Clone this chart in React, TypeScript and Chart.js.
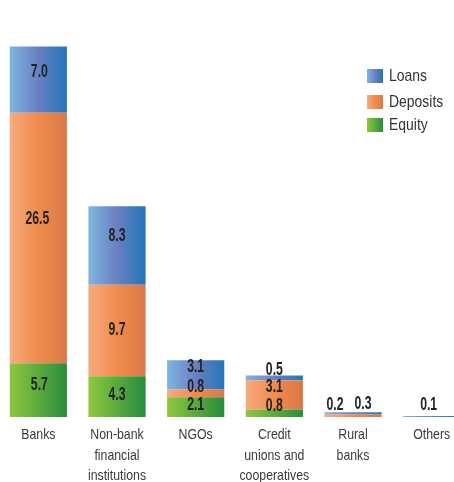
import React, { useEffect, useRef } from "react";
import { Chart, registerables } from "chart.js";

Chart.register(...registerables);

// ---- Data ----
const categories: string[][] = [
  ["Banks"],
  ["Non-bank", "financial", "institutions"],
  ["NGOs"],
  ["Credit", "unions and", "cooperatives"],
  ["Rural", "banks"],
  ["Others"],
];
const loans = [7.0, 8.3, 3.1, 0.5, 0.2, 0.1];
const deposits = [26.5, 9.7, 0.8, 3.1, 0.3, 0];
const equity = [5.7, 4.3, 2.1, 0.8, 0, 0];
const legendNames = ["Loans", "Deposits", "Equity"];

// ---- Styling ----
const FONT = "'Liberation Sans', Arial, sans-serif";
const NARROW = 0.82;
const LABEL_NARROW = 0.7;
const BAR_PCT = 0.727;
const gradStops: Record<string, string[]> = {
  Loans: ["#7db6e0", "#6a7fc2", "#2177b9"],
  Deposits: ["#f6ab80", "#f08b4c", "#d97947"],
  Equity: ["#8fc73f", "#5aab3c", "#288b3f"],
};
// label nudges [dx, dy] per series per category
const labelOffsets: Record<string, number[][]> = {
  Loans: [[1, -7], [0, -9], [0, -8], [0, -7.5], [-18, -8], [-3, -11]],
  Deposits: [[-1, -19], [0, 0], [0, -6.5], [0, -7.5], [10, -11], [0, 0]],
  Equity: [[1, -5], [0, -2], [0, -1.5], [0, -7.5], [0, 0], [0, 0]],
};

function narrowText(c: CanvasRenderingContext2D, t: string, x: number, y: number, sx = NARROW) {
  c.save();
  c.translate(x, y);
  c.scale(sx, 1);
  c.fillText(t, 0, 0);
  c.restore();
}

function makeGrad(name: string) {
  const stops = gradStops[name];
  return (ctx: any) => {
    const chart = ctx.chart;
    const xs = chart.scales && chart.scales.x;
    if (!chart.chartArea || !xs || ctx.dataIndex == null) return stops[1];
    const cx = xs.getPixelForValue(ctx.dataIndex);
    const w = (xs.width / categories.length) * BAR_PCT;
    const g = chart.ctx.createLinearGradient(cx - w / 2, 0, cx + w / 2, 0);
    g.addColorStop(0, stops[0]);
    g.addColorStop(0.5, stops[1]);
    g.addColorStop(1, stops[2]);
    return g;
  };
}

const labelPlugin = {
  id: "segLabels",
  afterDatasetsDraw(chart: any) {
    const c = chart.ctx;
    c.save();
    c.font = `bold 17.5px ${FONT}`;
    c.fillStyle = "#222222";
    c.textAlign = "center";
    c.textBaseline = "middle";
    chart.data.datasets.forEach((ds: any, di: number) => {
      const meta = chart.getDatasetMeta(di);
      meta.data.forEach((el: any, i: number) => {
        const v = ds.data[i];
        if (!v) return;
        const off = labelOffsets[ds.label][i];
        const y = (el.y + el.base) / 2;
        narrowText(c, v.toFixed(1), el.x + off[0], y + off[1], LABEL_NARROW);
      });
    });
    // category labels under the axis
    const xs = chart.scales.x;
    c.font = `15px ${FONT}`;
    c.fillStyle = "#3a3a3a";
    categories.forEach((lines, i) => {
      const cx = xs.getPixelForValue(i);
      lines.forEach((ln, k) => {
        narrowText(c, ln, cx, chart.chartArea.bottom + 18 + k * 20.5);
      });
    });
    c.restore();
  },
};

const legendPlugin = {
  id: "customLegend",
  afterDraw(chart: any) {
    const c = chart.ctx;
    c.save();
    const x0 = 368;
    const ys = [69, 95, 118];
    legendNames.forEach((name, i) => {
      const s = gradStops[name];
      const g = c.createLinearGradient(x0, 0, x0 + 16, 0);
      g.addColorStop(0, s[0]);
      g.addColorStop(0.5, s[1]);
      g.addColorStop(1, s[2]);
      c.fillStyle = g;
      c.fillRect(x0, ys[i], 16, 14);
      c.fillStyle = "#333333";
      c.font = `17px ${FONT}`;
      c.textAlign = "left";
      c.textBaseline = "middle";
      narrowText(c, name, x0 + 22, ys[i] + 7.5);
    });
    c.restore();
  },
};

export default function App() {
  const ref = useRef<HTMLCanvasElement | null>(null);
  useEffect(() => {
    document.body.style.margin = "0";
    document.body.style.overflow = "hidden";
    const canvas = ref.current!;
    const mk = (name: string, data: number[]) => ({
      label: name,
      data,
      backgroundColor: makeGrad(name),
      borderWidth: 0,
      barPercentage: BAR_PCT,
      categoryPercentage: 1,
    });
    const chart = new Chart(canvas, {
      type: "bar",
      data: {
        labels: categories,
        datasets: [mk("Equity", equity), mk("Deposits", deposits), mk("Loans", loans)],
      },
      options: {
        responsive: false,
        animation: false,
        layout: { padding: { top: 39, bottom: 65, left: 0, right: 0 } },
        plugins: { legend: { display: false }, tooltip: { enabled: false } },
        scales: {
          x: {
            stacked: true,
            grid: { display: false, drawTicks: false },
            border: { display: false },
            ticks: { display: false },
          },
          y: { stacked: true, display: false, min: 0, max: 40 },
        },
      },
      plugins: [labelPlugin, legendPlugin],
    });
    return () => chart.destroy();
  }, []);
  return (
    <div style={{ position: "fixed", left: 0, top: 0, width: 454, height: 482, overflow: "hidden", background: "#fff" }}>
      <canvas ref={ref} width={472} height={482} style={{ position: "absolute", left: -1, top: 0, width: 472, height: 482 }} />
    </div>
  );
}
